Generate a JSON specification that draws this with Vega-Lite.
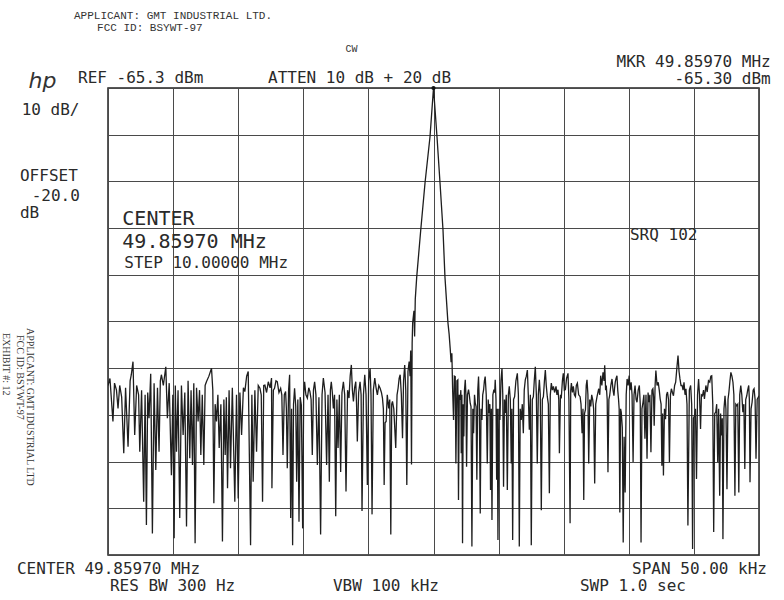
{
  "$schema": "https://vega.github.io/schema/vega-lite/v6.json",
  "width": 651,
  "height": 467,
  "autosize": {"type": "none"},
  "padding": {"left": 108, "top": 88, "right": 25, "bottom": 45},
  "background": "white",
  "config": {"view": {"stroke": "#222", "strokeWidth": 1.5}},
  "datasets": {
    "trace": [
      {"kHz":-25.0,"dBm":-129.0},{"kHz":-24.85,"dBm":-127.5},{"kHz":-24.62,"dBm":-136.7},{"kHz":-24.5,"dBm":-128.5},{"kHz":-24.35,"dBm":-130.0},{"kHz":-24.23,"dBm":-133.9},{"kHz":-24.1,"dBm":-129.0},{"kHz":-23.95,"dBm":-131.5},{"kHz":-23.79,"dBm":-143.5},{"kHz":-23.65,"dBm":-129.5},{"kHz":-23.46,"dBm":-142.1},{"kHz":-23.3,"dBm":-128.0},{"kHz":-23.21,"dBm":-126.7},{"kHz":-23.08,"dBm":-123.9},{"kHz":-22.95,"dBm":-139.6},{"kHz":-22.8,"dBm":-129.0},{"kHz":-22.65,"dBm":-131.0},{"kHz":-22.56,"dBm":-143.2},{"kHz":-22.42,"dBm":-130.0},{"kHz":-22.26,"dBm":-153.9},{"kHz":-22.15,"dBm":-131.0},{"kHz":-22.05,"dBm":-158.9},{"kHz":-21.95,"dBm":-130.5},{"kHz":-21.85,"dBm":-136.0},{"kHz":-21.72,"dBm":-126.5},{"kHz":-21.59,"dBm":-160.7},{"kHz":-21.46,"dBm":-128.5},{"kHz":-21.33,"dBm":-147.1},{"kHz":-21.2,"dBm":-129.5},{"kHz":-21.08,"dBm":-143.2},{"kHz":-20.98,"dBm":-128.0},{"kHz":-20.9,"dBm":-126.7},{"kHz":-20.75,"dBm":-129.0},{"kHz":-20.56,"dBm":-125.0},{"kHz":-20.44,"dBm":-136.0},{"kHz":-20.3,"dBm":-128.5},{"kHz":-20.13,"dBm":-148.2},{"kHz":-20.02,"dBm":-131.0},{"kHz":-19.92,"dBm":-161.7},{"kHz":-19.83,"dBm":-129.0},{"kHz":-19.74,"dBm":-143.2},{"kHz":-19.62,"dBm":-130.0},{"kHz":-19.49,"dBm":-157.4},{"kHz":-19.36,"dBm":-129.0},{"kHz":-19.23,"dBm":-139.6},{"kHz":-19.1,"dBm":-130.5},{"kHz":-18.97,"dBm":-159.2},{"kHz":-18.85,"dBm":-128.0},{"kHz":-18.72,"dBm":-144.6},{"kHz":-18.62,"dBm":-130.0},{"kHz":-18.51,"dBm":-146.0},{"kHz":-18.41,"dBm":-128.5},{"kHz":-18.31,"dBm":-162.8},{"kHz":-18.2,"dBm":-129.5},{"kHz":-18.08,"dBm":-136.7},{"kHz":-17.97,"dBm":-130.0},{"kHz":-17.87,"dBm":-143.9},{"kHz":-17.76,"dBm":-131.0},{"kHz":-17.64,"dBm":-146.0},{"kHz":-17.54,"dBm":-129.0},{"kHz":-17.44,"dBm":-128.2},{"kHz":-17.25,"dBm":-127.0},{"kHz":-17.05,"dBm":-125.3},{"kHz":-16.95,"dBm":-130.0},{"kHz":-16.87,"dBm":-154.2},{"kHz":-16.77,"dBm":-133.0},{"kHz":-16.67,"dBm":-136.7},{"kHz":-16.56,"dBm":-131.0},{"kHz":-16.46,"dBm":-142.4},{"kHz":-16.33,"dBm":-133.0},{"kHz":-16.21,"dBm":-162.4},{"kHz":-16.1,"dBm":-132.0},{"kHz":-16.0,"dBm":-143.9},{"kHz":-15.91,"dBm":-131.5},{"kHz":-15.82,"dBm":-151.0},{"kHz":-15.7,"dBm":-130.0},{"kHz":-15.59,"dBm":-146.7},{"kHz":-15.45,"dBm":-129.5},{"kHz":-15.26,"dBm":-153.9},{"kHz":-15.13,"dBm":-131.0},{"kHz":-15.0,"dBm":-153.2},{"kHz":-14.87,"dBm":-130.5},{"kHz":-14.74,"dBm":-139.6},{"kHz":-14.6,"dBm":-129.5},{"kHz":-14.49,"dBm":-130.3},{"kHz":-14.35,"dBm":-127.0},{"kHz":-14.23,"dBm":-126.0},{"kHz":-14.05,"dBm":-163.2},{"kHz":-13.95,"dBm":-131.0},{"kHz":-13.85,"dBm":-149.6},{"kHz":-13.72,"dBm":-130.0},{"kHz":-13.59,"dBm":-143.2},{"kHz":-13.46,"dBm":-129.0},{"kHz":-13.33,"dBm":-129.6},{"kHz":-13.23,"dBm":-131.0},{"kHz":-13.13,"dBm":-153.9},{"kHz":-13.04,"dBm":-129.0},{"kHz":-12.95,"dBm":-128.9},{"kHz":-12.82,"dBm":-130.5},{"kHz":-12.69,"dBm":-128.2},{"kHz":-12.55,"dBm":-129.5},{"kHz":-12.44,"dBm":-127.4},
      {"kHz":-12.41,"dBm":-151.0},{"kHz":-12.3,"dBm":-130.0},{"kHz":-12.21,"dBm":-129.6},{"kHz":-12.1,"dBm":-128.0},{"kHz":-12.0,"dBm":-128.2},{"kHz":-11.87,"dBm":-130.5},{"kHz":-11.74,"dBm":-129.6},{"kHz":-11.65,"dBm":-131.0},{"kHz":-11.56,"dBm":-143.9},{"kHz":-11.46,"dBm":-131.0},{"kHz":-11.36,"dBm":-130.3},{"kHz":-11.3,"dBm":-134.0},{"kHz":-11.23,"dBm":-146.7},{"kHz":-11.13,"dBm":-130.0},{"kHz":-11.05,"dBm":-126.7},{"kHz":-10.97,"dBm":-157.4},{"kHz":-10.9,"dBm":-134.0},{"kHz":-10.82,"dBm":-163.2},{"kHz":-10.75,"dBm":-133.0},{"kHz":-10.67,"dBm":-129.6},{"kHz":-10.58,"dBm":-133.5},{"kHz":-10.51,"dBm":-149.6},{"kHz":-10.42,"dBm":-132.0},{"kHz":-10.33,"dBm":-158.2},{"kHz":-10.24,"dBm":-131.5},{"kHz":-10.15,"dBm":-133.2},{"kHz":-10.05,"dBm":-159.6},{"kHz":-9.97,"dBm":-131.0},{"kHz":-9.9,"dBm":-128.2},{"kHz":-9.8,"dBm":-131.0},{"kHz":-9.69,"dBm":-131.7},{"kHz":-9.58,"dBm":-129.5},{"kHz":-9.49,"dBm":-130.3},{"kHz":-9.4,"dBm":-132.0},{"kHz":-9.31,"dBm":-143.9},{"kHz":-9.22,"dBm":-130.0},{"kHz":-9.13,"dBm":-128.2},{"kHz":-9.03,"dBm":-131.0},{"kHz":-8.92,"dBm":-146.0},{"kHz":-8.8,"dBm":-131.5},{"kHz":-8.67,"dBm":-160.9},{"kHz":-8.56,"dBm":-131.0},{"kHz":-8.46,"dBm":-127.4},{"kHz":-8.33,"dBm":-130.5},{"kHz":-8.21,"dBm":-146.0},{"kHz":-8.1,"dBm":-131.0},{"kHz":-8.0,"dBm":-149.6},{"kHz":-7.92,"dBm":-130.0},{"kHz":-7.85,"dBm":-128.2},{"kHz":-7.77,"dBm":-130.5},{"kHz":-7.69,"dBm":-133.9},{"kHz":-7.6,"dBm":-131.0},{"kHz":-7.51,"dBm":-157.0},{"kHz":-7.42,"dBm":-132.0},{"kHz":-7.33,"dBm":-142.4},{"kHz":-7.23,"dBm":-131.0},{"kHz":-7.13,"dBm":-147.5},{"kHz":-7.03,"dBm":-130.5},{"kHz":-6.92,"dBm":-128.2},{"kHz":-6.82,"dBm":-131.0},{"kHz":-6.72,"dBm":-151.7},{"kHz":-6.6,"dBm":-130.0},{"kHz":-6.49,"dBm":-131.7},{"kHz":-6.4,"dBm":-127.0},{"kHz":-6.31,"dBm":-124.6},{"kHz":-6.23,"dBm":-130.0},{"kHz":-6.15,"dBm":-132.4},{"kHz":-6.06,"dBm":-129.5},{"kHz":-5.97,"dBm":-128.2},{"kHz":-5.91,"dBm":-133.0},{"kHz":-5.85,"dBm":-141.0},{"kHz":-5.75,"dBm":-130.5},{"kHz":-5.64,"dBm":-128.2},{"kHz":-5.56,"dBm":-131.0},{"kHz":-5.49,"dBm":-155.9},{"kHz":-5.38,"dBm":-131.0},{"kHz":-5.28,"dBm":-126.7},{"kHz":-5.18,"dBm":-131.0},{"kHz":-5.08,"dBm":-150.3},{"kHz":-4.98,"dBm":-128.0},{"kHz":-4.87,"dBm":-125.3},{"kHz":-4.8,"dBm":-131.0},{"kHz":-4.72,"dBm":-156.6},{"kHz":-4.62,"dBm":-130.0},{"kHz":-4.51,"dBm":-127.4},{"kHz":-4.41,"dBm":-129.5},{"kHz":-4.31,"dBm":-131.0},{"kHz":-4.2,"dBm":-129.0},{"kHz":-4.1,"dBm":-129.6},{"kHz":-4.0,"dBm":-130.5},{"kHz":-3.92,"dBm":-131.7},{"kHz":-3.85,"dBm":-134.0},{"kHz":-3.79,"dBm":-150.3},{"kHz":-3.72,"dBm":-137.0},{"kHz":-3.64,"dBm":-136.7},{"kHz":-3.55,"dBm":-131.0},{"kHz":-3.44,"dBm":-133.9},{"kHz":-3.36,"dBm":-132.0},{"kHz":-3.28,"dBm":-160.9},{"kHz":-3.21,"dBm":-133.0},{"kHz":-3.15,"dBm":-132.4},{"kHz":-3.05,"dBm":-134.0},{"kHz":-2.9,"dBm":-142.4},{"kHz":-2.8,"dBm":-131.0},{"kHz":-2.72,"dBm":-129.6},{"kHz":-2.64,"dBm":-127.5},{"kHz":-2.56,"dBm":-126.7},{"kHz":-2.47,"dBm":-131.0},{"kHz":-2.38,"dBm":-140.3},{"kHz":-2.3,"dBm":-128.0},{"kHz":-2.21,"dBm":-124.6},{"kHz":-2.13,"dBm":-130.0},{"kHz":-2.05,"dBm":-150.3},{"kHz":-1.96,"dBm":-126.0},{"kHz":-1.87,"dBm":-123.9},{"kHz":-1.8,"dBm":-127.0},{"kHz":-1.75,"dBm":-121.5},{"kHz":-1.69,"dBm":-145.9},{"kHz":-1.64,"dBm":-120.0},{"kHz":-1.6,"dBm":-115.6},{"kHz":-1.5,"dBm":-113.0},{"kHz":-1.45,"dBm":-118.5},{"kHz":-1.4,"dBm":-110.5},{"kHz":-1.29,"dBm":-105.8},{"kHz":-0.98,"dBm":-95.7},{"kHz":-0.65,"dBm":-85.6},{"kHz":-0.27,"dBm":-75.8},{"kHz":0.0,"dBm":-65.3},{"kHz":0.27,"dBm":-75.8},{"kHz":0.5,"dBm":-85.6},{"kHz":0.73,"dBm":-95.7},{"kHz":0.88,"dBm":-105.8},{"kHz":1.11,"dBm":-115.6},{"kHz":1.2,"dBm":-118.0},{"kHz":1.28,"dBm":-121.0},
      {"kHz":1.35,"dBm":-124.0},{"kHz":1.41,"dBm":-122.1},{"kHz":1.47,"dBm":-130.0},{"kHz":1.54,"dBm":-136.4},{"kHz":1.6,"dBm":-127.0},{"kHz":1.67,"dBm":-127.1},{"kHz":1.72,"dBm":-145.7},{"kHz":1.8,"dBm":-128.0},{"kHz":1.87,"dBm":-127.8},{"kHz":1.92,"dBm":-153.5},{"kHz":1.98,"dBm":-131.0},{"kHz":2.05,"dBm":-132.1},{"kHz":2.1,"dBm":-130.0},{"kHz":2.13,"dBm":-143.5},{"kHz":2.18,"dBm":-131.0},{"kHz":2.23,"dBm":-162.8},{"kHz":2.28,"dBm":-133.0},{"kHz":2.33,"dBm":-139.9},{"kHz":2.38,"dBm":-130.0},{"kHz":2.44,"dBm":-127.8},{"kHz":2.49,"dBm":-131.0},{"kHz":2.54,"dBm":-146.4},{"kHz":2.61,"dBm":-131.0},{"kHz":2.69,"dBm":-129.9},{"kHz":2.75,"dBm":-131.0},{"kHz":2.82,"dBm":-132.8},{"kHz":2.88,"dBm":-133.5},{"kHz":2.95,"dBm":-163.5},{"kHz":3.02,"dBm":-134.0},{"kHz":3.08,"dBm":-139.2},{"kHz":3.15,"dBm":-131.0},{"kHz":3.21,"dBm":-132.8},{"kHz":3.27,"dBm":-133.5},{"kHz":3.33,"dBm":-149.2},{"kHz":3.4,"dBm":-130.0},{"kHz":3.46,"dBm":-127.1},{"kHz":3.52,"dBm":-133.0},{"kHz":3.59,"dBm":-156.4},{"kHz":3.65,"dBm":-134.0},{"kHz":3.72,"dBm":-136.4},{"kHz":3.78,"dBm":-131.0},{"kHz":3.85,"dBm":-129.9},{"kHz":3.91,"dBm":-128.0},{"kHz":3.97,"dBm":-127.1},{"kHz":4.05,"dBm":-131.0},{"kHz":4.13,"dBm":-145.7},{"kHz":4.2,"dBm":-132.0},{"kHz":4.28,"dBm":-134.9},{"kHz":4.33,"dBm":-133.0},{"kHz":4.38,"dBm":-151.4},{"kHz":4.44,"dBm":-134.0},{"kHz":4.49,"dBm":-157.8},{"kHz":4.56,"dBm":-131.0},{"kHz":4.64,"dBm":-129.9},{"kHz":4.7,"dBm":-130.5},{"kHz":4.74,"dBm":-127.8},{"kHz":4.8,"dBm":-132.0},{"kHz":4.85,"dBm":-149.2},{"kHz":4.9,"dBm":-134.0},{"kHz":4.95,"dBm":-162.1},{"kHz":5.02,"dBm":-134.0},{"kHz":5.1,"dBm":-136.4},{"kHz":5.18,"dBm":-128.0},{"kHz":5.26,"dBm":-125.3},{"kHz":5.32,"dBm":-131.0},{"kHz":5.38,"dBm":-150.7},{"kHz":5.45,"dBm":-132.0},{"kHz":5.51,"dBm":-134.9},{"kHz":5.59,"dBm":-131.0},{"kHz":5.67,"dBm":-151.4},{"kHz":5.75,"dBm":-131.0},{"kHz":5.82,"dBm":-129.2},{"kHz":5.9,"dBm":-132.0},{"kHz":5.97,"dBm":-145.7},{"kHz":6.02,"dBm":-134.0},{"kHz":6.08,"dBm":-162.1},{"kHz":6.15,"dBm":-132.0},{"kHz":6.23,"dBm":-131.4},{"kHz":6.33,"dBm":-128.0},{"kHz":6.44,"dBm":-126.4},{"kHz":6.52,"dBm":-131.0},{"kHz":6.59,"dBm":-163.5},{"kHz":6.66,"dBm":-134.0},{"kHz":6.74,"dBm":-136.4},{"kHz":6.82,"dBm":-133.0},{"kHz":6.9,"dBm":-139.2},{"kHz":6.97,"dBm":-130.0},{"kHz":7.05,"dBm":-127.8},{"kHz":7.13,"dBm":-127.0},{"kHz":7.21,"dBm":-125.7},{"kHz":7.28,"dBm":-131.0},{"kHz":7.36,"dBm":-138.5},{"kHz":7.44,"dBm":-131.0},{"kHz":7.51,"dBm":-163.2},{"kHz":7.59,"dBm":-132.0},{"kHz":7.67,"dBm":-131.4},{"kHz":7.74,"dBm":-128.0},{"kHz":7.82,"dBm":-125.0},{"kHz":7.9,"dBm":-131.0},{"kHz":7.97,"dBm":-145.7},{"kHz":8.05,"dBm":-131.0},{"kHz":8.13,"dBm":-127.8},{"kHz":8.2,"dBm":-131.0},{"kHz":8.28,"dBm":-155.7},{"kHz":8.36,"dBm":-132.0},{"kHz":8.44,"dBm":-131.4},{"kHz":8.52,"dBm":-128.0},{"kHz":8.59,"dBm":-125.7},{"kHz":8.66,"dBm":-129.0},{"kHz":8.74,"dBm":-131.4},{"kHz":8.82,"dBm":-133.0},{"kHz":8.9,"dBm":-152.1},{"kHz":8.97,"dBm":-131.0},{"kHz":9.05,"dBm":-128.5},{"kHz":9.13,"dBm":-130.0},{"kHz":9.21,"dBm":-129.2},{"kHz":9.3,"dBm":-130.5},{"kHz":9.41,"dBm":-129.2},{"kHz":9.48,"dBm":-131.0},{"kHz":9.56,"dBm":-129.9},{"kHz":9.62,"dBm":-132.0},{"kHz":9.67,"dBm":-143.5},{"kHz":9.75,"dBm":-131.0},{"kHz":9.82,"dBm":-131.4},{"kHz":9.9,"dBm":-128.0},{"kHz":9.97,"dBm":-126.4},{"kHz":10.05,"dBm":-130.0},{"kHz":10.13,"dBm":-129.9},{"kHz":10.22,"dBm":-127.5},{"kHz":10.33,"dBm":-126.4},{"kHz":10.4,"dBm":-132.0},{"kHz":10.49,"dBm":-158.5},{"kHz":10.54,"dBm":-130.0},{"kHz":10.59,"dBm":-128.5},{"kHz":10.67,"dBm":-130.5},{"kHz":10.74,"dBm":-129.2},{"kHz":10.82,"dBm":-131.0},{"kHz":10.9,"dBm":-131.4},{"kHz":10.97,"dBm":-129.0},{"kHz":11.05,"dBm":-128.5},{"kHz":11.15,"dBm":-131.0},{"kHz":11.26,"dBm":-131.4},{"kHz":11.33,"dBm":-133.0},{"kHz":11.41,"dBm":-139.2},{"kHz":11.48,"dBm":-134.0},{"kHz":11.54,"dBm":-153.5},{"kHz":11.6,"dBm":-135.0},{"kHz":11.67,"dBm":-134.2},{"kHz":11.73,"dBm":-129.0},{"kHz":11.79,"dBm":-127.8},{"kHz":11.86,"dBm":-131.0},{"kHz":11.92,"dBm":-145.7},{"kHz":12.0,"dBm":-132.0},{"kHz":12.08,"dBm":-133.5},{"kHz":12.15,"dBm":-131.0},{"kHz":12.23,"dBm":-132.1},{"kHz":12.3,"dBm":-134.0},{"kHz":12.38,"dBm":-150.0},{"kHz":12.46,"dBm":-133.0},{"kHz":12.56,"dBm":-131.4},
      {"kHz":12.69,"dBm":-129.7},{"kHz":12.77,"dBm":-131.0},{"kHz":12.84,"dBm":-126.9},{"kHz":12.93,"dBm":-129.0},{"kHz":13.02,"dBm":-126.2},{"kHz":13.1,"dBm":-128.0},{"kHz":13.15,"dBm":-124.7},{"kHz":13.22,"dBm":-130.0},{"kHz":13.27,"dBm":-129.0},{"kHz":13.34,"dBm":-132.0},{"kHz":13.4,"dBm":-147.6},{"kHz":13.47,"dBm":-132.0},{"kHz":13.53,"dBm":-131.2},{"kHz":13.62,"dBm":-129.0},{"kHz":13.71,"dBm":-127.6},{"kHz":13.79,"dBm":-130.0},{"kHz":13.86,"dBm":-131.2},{"kHz":13.91,"dBm":-129.5},{"kHz":13.96,"dBm":-128.3},{"kHz":14.02,"dBm":-127.5},{"kHz":14.09,"dBm":-126.9},{"kHz":14.15,"dBm":-130.0},{"kHz":14.21,"dBm":-131.9},{"kHz":14.26,"dBm":-134.0},{"kHz":14.31,"dBm":-156.2},{"kHz":14.37,"dBm":-134.0},{"kHz":14.42,"dBm":-134.7},{"kHz":14.5,"dBm":-138.0},{"kHz":14.57,"dBm":-162.6},{"kHz":14.64,"dBm":-140.0},{"kHz":14.72,"dBm":-151.9},{"kHz":14.8,"dBm":-131.0},{"kHz":14.87,"dBm":-127.6},{"kHz":14.95,"dBm":-129.0},{"kHz":15.03,"dBm":-126.9},{"kHz":15.1,"dBm":-130.0},{"kHz":15.18,"dBm":-128.3},{"kHz":15.25,"dBm":-131.0},{"kHz":15.33,"dBm":-145.4},{"kHz":15.4,"dBm":-131.0},{"kHz":15.48,"dBm":-129.0},{"kHz":15.56,"dBm":-132.0},{"kHz":15.63,"dBm":-132.6},{"kHz":15.72,"dBm":-130.0},{"kHz":15.81,"dBm":-129.0},{"kHz":15.88,"dBm":-133.0},{"kHz":15.94,"dBm":-162.6},{"kHz":16.01,"dBm":-134.0},{"kHz":16.09,"dBm":-132.6},{"kHz":16.16,"dBm":-131.0},{"kHz":16.24,"dBm":-140.4},{"kHz":16.32,"dBm":-131.0},{"kHz":16.4,"dBm":-144.7},{"kHz":16.48,"dBm":-130.5},{"kHz":16.55,"dBm":-132.6},{"kHz":16.62,"dBm":-131.0},{"kHz":16.7,"dBm":-143.3},{"kHz":16.78,"dBm":-130.0},{"kHz":16.85,"dBm":-129.7},{"kHz":16.9,"dBm":-131.5},{"kHz":16.95,"dBm":-137.6},{"kHz":17.02,"dBm":-129.0},{"kHz":17.08,"dBm":-125.8},{"kHz":17.17,"dBm":-129.0},{"kHz":17.26,"dBm":-128.3},{"kHz":17.34,"dBm":-130.0},{"kHz":17.41,"dBm":-131.9},{"kHz":17.48,"dBm":-133.0},{"kHz":17.54,"dBm":-146.2},{"kHz":17.6,"dBm":-135.0},{"kHz":17.66,"dBm":-148.3},{"kHz":17.74,"dBm":-134.0},{"kHz":17.82,"dBm":-136.2},{"kHz":17.9,"dBm":-131.0},{"kHz":17.97,"dBm":-130.4},{"kHz":18.05,"dBm":-132.0},{"kHz":18.12,"dBm":-145.4},{"kHz":18.2,"dBm":-131.0},{"kHz":18.27,"dBm":-129.7},{"kHz":18.35,"dBm":-130.5},{"kHz":18.43,"dBm":-131.2},{"kHz":18.52,"dBm":-129.0},{"kHz":18.6,"dBm":-128.3},{"kHz":18.7,"dBm":-125.0},{"kHz":18.78,"dBm":-122.6},{"kHz":18.86,"dBm":-126.0},{"kHz":18.93,"dBm":-127.6},{"kHz":19.01,"dBm":-129.0},{"kHz":19.09,"dBm":-129.0},{"kHz":19.17,"dBm":-130.0},{"kHz":19.24,"dBm":-128.3},{"kHz":19.32,"dBm":-131.0},{"kHz":19.39,"dBm":-129.7},{"kHz":19.47,"dBm":-133.0},{"kHz":19.54,"dBm":-159.0},{"kHz":19.65,"dBm":-130.0},{"kHz":19.75,"dBm":-129.0},{"kHz":19.83,"dBm":-133.0},{"kHz":19.9,"dBm":-164.0},{"kHz":19.97,"dBm":-136.0},{"kHz":20.05,"dBm":-135.4},{"kHz":20.12,"dBm":-134.0},{"kHz":20.2,"dBm":-149.0},{"kHz":20.28,"dBm":-131.0},{"kHz":20.36,"dBm":-127.6},{"kHz":20.43,"dBm":-131.0},{"kHz":20.51,"dBm":-138.3},{"kHz":20.58,"dBm":-131.0},{"kHz":20.66,"dBm":-131.2},{"kHz":20.74,"dBm":-130.0},{"kHz":20.81,"dBm":-131.9},{"kHz":20.92,"dBm":-129.0},{"kHz":21.02,"dBm":-130.4},{"kHz":21.12,"dBm":-128.0},{"kHz":21.22,"dBm":-128.3},{"kHz":21.3,"dBm":-127.0},{"kHz":21.37,"dBm":-126.9},{"kHz":21.45,"dBm":-133.0},{"kHz":21.52,"dBm":-160.4},{"kHz":21.6,"dBm":-135.0},{"kHz":21.68,"dBm":-134.7},{"kHz":21.75,"dBm":-133.0},{"kHz":21.83,"dBm":-145.4},{"kHz":21.9,"dBm":-134.0},{"kHz":21.98,"dBm":-152.6},{"kHz":22.05,"dBm":-135.0},{"kHz":22.13,"dBm":-139.7},{"kHz":22.18,"dBm":-136.0},{"kHz":22.23,"dBm":-161.9},{"kHz":22.31,"dBm":-134.0},{"kHz":22.39,"dBm":-131.2},{"kHz":22.46,"dBm":-134.0},{"kHz":22.54,"dBm":-151.2},{"kHz":22.62,"dBm":-132.0},{"kHz":22.69,"dBm":-130.4},{"kHz":22.77,"dBm":-128.0},{"kHz":22.84,"dBm":-126.2},{"kHz":22.92,"dBm":-127.0},{"kHz":23.0,"dBm":-128.3},{"kHz":23.07,"dBm":-131.0},{"kHz":23.15,"dBm":-152.6},{"kHz":23.22,"dBm":-133.0},{"kHz":23.3,"dBm":-133.3},{"kHz":23.37,"dBm":-133.0},{"kHz":23.45,"dBm":-151.9},{"kHz":23.52,"dBm":-131.0},{"kHz":23.6,"dBm":-129.0},{"kHz":23.68,"dBm":-131.0},{"kHz":23.76,"dBm":-134.7},{"kHz":23.84,"dBm":-133.0},{"kHz":23.91,"dBm":-146.9},{"kHz":23.98,"dBm":-132.0},{"kHz":24.06,"dBm":-131.2},{"kHz":24.13,"dBm":-130.0},{"kHz":24.21,"dBm":-129.0},{"kHz":24.26,"dBm":-132.0},{"kHz":24.31,"dBm":-149.7},{"kHz":24.39,"dBm":-134.0},{"kHz":24.47,"dBm":-132.6},{"kHz":24.55,"dBm":-130.0},{"kHz":24.62,"dBm":-129.7},{"kHz":24.7,"dBm":-132.0},{"kHz":24.77,"dBm":-144.7},{"kHz":24.86,"dBm":-132.0},{"kHz":25.0,"dBm":-131.2}
    ],
    "marker": [{"kHz": 0, "dBm": -65.3}],
    "header": [
      {"label": "APPLICANT: GMT INDUSTRIAL LTD.", "kHz": -27.61, "dBm": -50.5},
      {"label": "FCC ID: BSYWT-97", "kHz": -25.84, "dBm": -53.1}
    ],
    "cw": [{"label": "CW", "kHz": -6.3, "dBm": -57.6}],
    "logo": [{"label": "hp", "kHz": -31.1, "dBm": -65.3}],
    "instLeft": [
      {"label": "REF -65.3 dBm", "kHz": -27.3, "dBm": -64.2},
      {"label": "ATTEN 10 dB + 20 dB", "kHz": -12.71, "dBm": -64.2},
      {"label": "10 dB/", "kHz": -31.63, "dBm": -71.08},
      {"label": "OFFSET", "kHz": -31.76, "dBm": -85.3},
      {"label": "-20.0", "kHz": -30.86, "dBm": -89.5},
      {"label": "dB", "kHz": -31.76, "dBm": -93.1},
      {"label": "STEP 10.00000 MHz", "kHz": -23.75, "dBm": -103.91},
      {"label": "SRQ 102", "kHz": 15.09, "dBm": -97.85},
      {"label": "CENTER 49.85970 MHz", "kHz": -31.99, "dBm": -169.37},
      {"label": "RES BW 300 Hz", "kHz": -24.85, "dBm": -173.0},
      {"label": "VBW 100 kHz", "kHz": -7.72, "dBm": -173.0},
      {"label": "SWP 1.0  sec", "kHz": 11.25, "dBm": -173.0}
    ],
    "instRight": [
      {"label": "MKR 49.85970 MHz", "kHz": 25.9, "dBm": -60.74},
      {"label": "-65.30 dBm", "kHz": 25.9, "dBm": -64.44},
      {"label": "SPAN 50.00 kHz", "kHz": 25.61, "dBm": -169.37}
    ],
    "instBig": [
      {"label": "CENTER", "kHz": -23.9, "dBm": -94.64},
      {"label": "49.85970 MHz", "kHz": -23.9, "dBm": -99.63}
    ],
    "side": [
      {"label": "APPLICANT:  GMT IDUSTRIAL LTD", "kHz": -31.22, "dBm": -116.69},
      {"label": "FCC ID:  BSYWT-97", "kHz": -31.99, "dBm": -118.19},
      {"label": "EXHIBIT #:  12", "kHz": -33.03, "dBm": -117.76}
    ]
  },
  "layer": [
    {
      "data": {"name": "trace"},
      "mark": {"type": "line", "color": "#1e1e1e", "strokeWidth": 1.3, "clip": true, "interpolate": "linear"},
      "encoding": {
        "x": {"field": "kHz", "type": "quantitative",
              "scale": {"domain": [-25, 25], "nice": false, "zero": false},
              "axis": {"values": [-25, -20, -15, -10, -5, 0, 5, 10, 15, 20, 25], "grid": true, "gridColor": "#4a4a4a", "gridWidth": 1, "gridOpacity": 1, "labels": false, "ticks": false, "domain": false, "title": null}},
        "y": {"field": "dBm", "type": "quantitative",
              "scale": {"domain": [-165.3, -65.3], "nice": false, "zero": false},
              "axis": {"values": [-165.3, -155.3, -145.3, -135.3, -125.3, -115.3, -105.3, -95.3, -85.3, -75.3, -65.3], "grid": true, "gridColor": "#4a4a4a", "gridWidth": 1, "gridOpacity": 1, "labels": false, "ticks": false, "domain": false, "title": null}}
      }
    },
    {
      "data": {"name": "marker"},
      "mark": {"type": "point", "filled": true, "color": "#111", "size": 18, "opacity": 1},
      "encoding": {"x": {"field": "kHz", "type": "quantitative"}, "y": {"field": "dBm", "type": "quantitative"}}
    },
    {
      "data": {"name": "header"},
      "mark": {"type": "text", "font": "Liberation Mono", "fontSize": 11, "align": "left", "baseline": "alphabetic", "color": "#333"},
      "encoding": {"x": {"field": "kHz", "type": "quantitative"}, "y": {"field": "dBm", "type": "quantitative"}, "text": {"field": "label"}}
    },
    {
      "data": {"name": "cw"},
      "mark": {"type": "text", "font": "Liberation Mono", "fontSize": 10, "align": "center", "baseline": "alphabetic", "color": "#333"},
      "encoding": {"x": {"field": "kHz", "type": "quantitative"}, "y": {"field": "dBm", "type": "quantitative"}, "text": {"field": "label"}}
    },
    {
      "data": {"name": "logo"},
      "mark": {"type": "text", "font": "DejaVu Sans", "fontSize": 22, "fontStyle": "italic", "fontWeight": 300, "align": "left", "baseline": "alphabetic", "color": "#333"},
      "encoding": {"x": {"field": "kHz", "type": "quantitative"}, "y": {"field": "dBm", "type": "quantitative"}, "text": {"field": "label"}}
    },
    {
      "data": {"name": "instLeft"},
      "mark": {"type": "text", "font": "DejaVu Sans Mono", "fontSize": 16, "align": "left", "baseline": "alphabetic", "color": "#2a2a2a"},
      "encoding": {"x": {"field": "kHz", "type": "quantitative"}, "y": {"field": "dBm", "type": "quantitative"}, "text": {"field": "label"}}
    },
    {
      "data": {"name": "instRight"},
      "mark": {"type": "text", "font": "DejaVu Sans Mono", "fontSize": 16, "align": "right", "baseline": "alphabetic", "color": "#2a2a2a"},
      "encoding": {"x": {"field": "kHz", "type": "quantitative"}, "y": {"field": "dBm", "type": "quantitative"}, "text": {"field": "label"}}
    },
    {
      "data": {"name": "instBig"},
      "mark": {"type": "text", "font": "DejaVu Sans Mono", "fontSize": 20, "align": "left", "baseline": "alphabetic", "color": "#2a2a2a"},
      "encoding": {"x": {"field": "kHz", "type": "quantitative"}, "y": {"field": "dBm", "type": "quantitative"}, "text": {"field": "label"}}
    },
    {
      "data": {"name": "side"},
      "mark": {"type": "text", "font": "Liberation Serif", "fontSize": 10, "angle": 90, "align": "left", "baseline": "alphabetic", "color": "#333"},
      "encoding": {"x": {"field": "kHz", "type": "quantitative"}, "y": {"field": "dBm", "type": "quantitative"}, "text": {"field": "label"}}
    }
  ]
}
